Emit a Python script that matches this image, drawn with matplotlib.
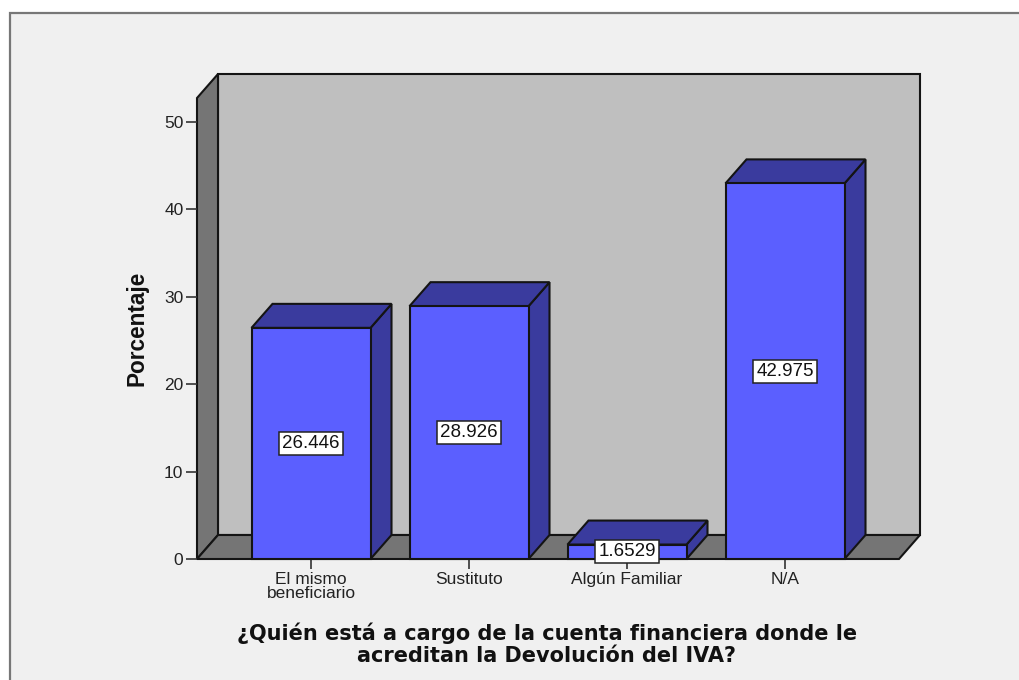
import matplotlib
matplotlib.use('Agg')
import matplotlib.pyplot as plt
from matplotlib.patches import Polygon, Rectangle

categorias = ['El mismo\nbeneficiario', 'Sustituto', 'Algún Familiar', 'N/A']
porcentajes = [26.446, 28.926, 1.6529, 42.975]
etiquetas = ['26.446', '28.926', '1.6529', '42.975']
y_ticks = [0, 10, 20, 30, 40, 50]
x_label = '¿Quién está a cargo de la cuenta financiera donde le\nacreditan la Devolución del IVA?'
y_label = 'Porcentaje'

W, H = 1020, 680
FONDO = '#f0f0f0'
BORDE = '#777777'
PARED = '#bfbfbf'
PISO = '#757575'
FRENTE = '#5b5fff'
LADO = '#3a3b9e'
LINEA = '#141414'

# caja frontal en pixeles
X0, X1, Y0, Y1 = 197, 899, 559, 98
PX_X = 158.0    # pixeles entre categorias
PX_Y = 8.74     # pixeles por unidad de porcentaje
DX = 21 / PX_X  # profundidad 3D en unidades de datos
DY = 24 / PX_Y
ANCHO = 119 / PX_X

fig = plt.figure(figsize=(W / 100, H / 100), dpi=100, facecolor='white')
fig.add_artist(Rectangle((10 / W, -0.1), 1.1, 1.1 - 13 / H, transform=fig.transFigure,
                         facecolor=FONDO, edgecolor=BORDE, linewidth=1.6, zorder=-1))

ax = fig.add_axes([X0 / W, 1 - Y0 / H, (X1 - X0) / W, (Y0 - Y1) / H])
ax.patch.set_visible(False)
ax.set_xlim((X0 - 311) / PX_X, (X1 - 311) / PX_X)
ax.set_ylim(0, (Y0 - Y1) / PX_Y)
for s in ax.spines.values():
    s.set_visible(False)

x_min, x_max = ax.get_xlim()
y_max = ax.get_ylim()[1]


def poli(puntos, color, z=1):
    ax.add_patch(Polygon(puntos, closed=True, facecolor=color, edgecolor=LINEA,
                         linewidth=1.5, joinstyle='miter', clip_on=False, zorder=z))


# paredes y piso
poli([(x_min + DX, DY), (x_max + DX, DY), (x_max + DX, y_max + DY), (x_min + DX, y_max + DY)], PARED)
poli([(x_min, 0), (x_min + DX, DY), (x_min + DX, y_max + DY), (x_min, y_max)], PISO)
poli([(x_min, 0), (x_max, 0), (x_max + DX, DY), (x_min + DX, DY)], PISO)

# barras
pos = list(range(len(categorias)))
ax.bar(pos, porcentajes, width=ANCHO, color=FRENTE, edgecolor=LINEA, linewidth=1.5,
       clip_on=False, zorder=3)
for i, v in zip(pos, porcentajes):
    izq, der = i - ANCHO / 2, i + ANCHO / 2
    poli([(der, 0), (der + DX, DY), (der + DX, v + DY), (der, v)], LADO, 2)
    poli([(izq, v), (der, v), (der + DX, v + DY), (izq + DX, v + DY)], LADO, 2)
    ax.text(i, v / 2, etiquetas[i], ha='center', va='center', fontsize=13.5,
            family='Liberation Sans', color='#111111', zorder=6,
            bbox=dict(boxstyle='square,pad=0.16', facecolor='white', edgecolor='#222222', linewidth=1.1))

# ejes
ax.set_xticks(pos)
ax.set_xticklabels(categorias, family='Liberation Sans', fontsize=12.5, color='#222222', linespacing=0.95)
ax.set_yticks(y_ticks)
ax.set_yticklabels([str(t) for t in y_ticks], family='Liberation Sans', fontsize=12.5, color='#222222')
ax.tick_params(axis='x', length=7.2, width=1.2, color='#333333', pad=2)
ax.tick_params(axis='y', length=7.8, width=1.2, color='#333333', pad=2)

fig.text(137 / W, 1 - 328 / H, y_label, rotation=90, ha='center', va='center',
         family='Liberation Sans', fontweight='bold', fontsize=16.3, color='#111111')
fig.text(547 / W, 1 - 644 / H, x_label, ha='center', va='center', multialignment='center',
         family='DejaVu Sans', fontweight='bold', fontsize=15, color='#111111', linespacing=1.1)

fig.savefig('out.png', dpi=100, facecolor=fig.get_facecolor())
